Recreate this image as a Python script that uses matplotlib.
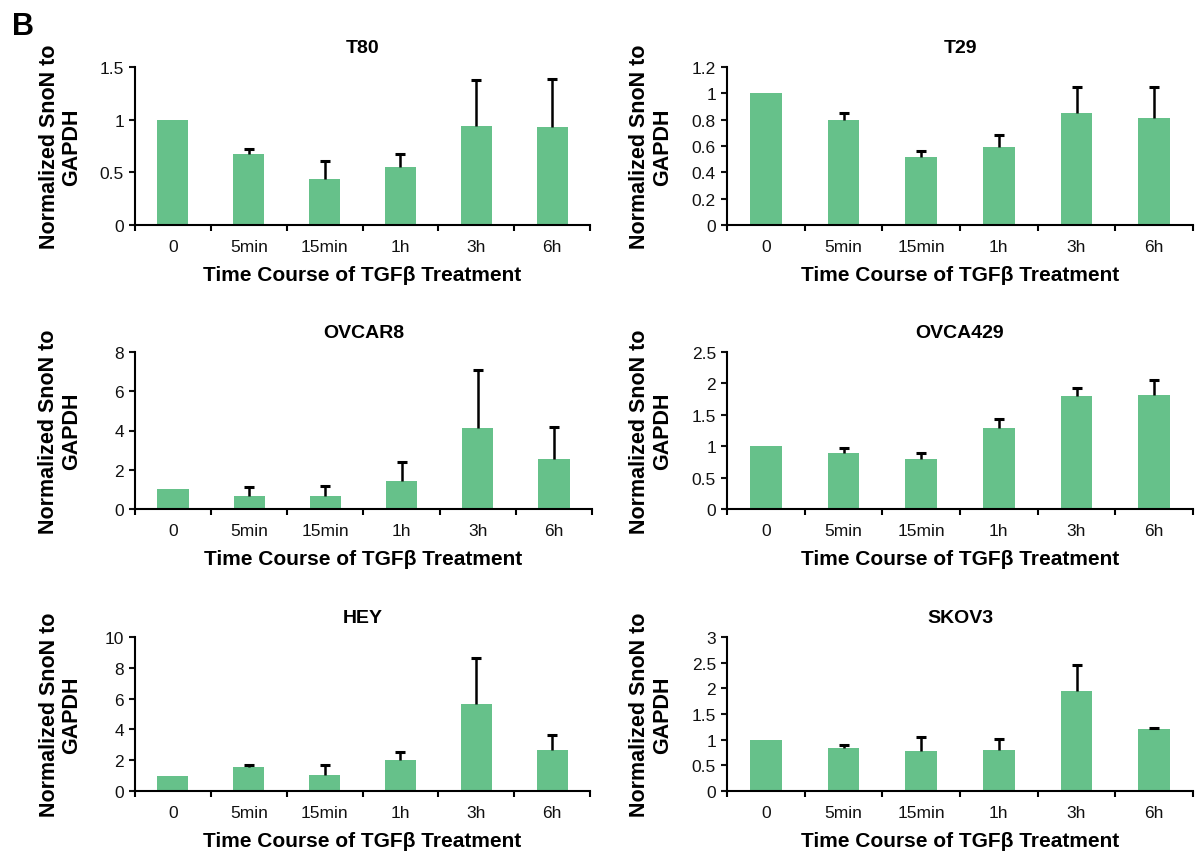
import numpy as np
import matplotlib
matplotlib.use('Agg')
import matplotlib.pyplot as plt
from matplotlib.ticker import FormatStrFormatter, FixedLocator

plt.rcParams['font.family'] = ['Liberation Sans', 'DejaVu Sans']

# data
times = ['0', '5min', '15min', '1h', '3h', '6h']
cell_lines = ['T80', 'T29', 'OVCAR8', 'OVCA429', 'HEY', 'SKOV3']

t80_mean = [1.00, 0.67, 0.44, 0.55, 0.94, 0.93]
t80_err = [0.00, 0.05, 0.17, 0.12, 0.44, 0.46]
t29_mean = [1.00, 0.80, 0.52, 0.59, 0.85, 0.81]
t29_err = [0.00, 0.05, 0.04, 0.09, 0.20, 0.24]
ovcar8_mean = [1.00, 0.66, 0.66, 1.42, 4.12, 2.54]
ovcar8_err = [0.00, 0.46, 0.51, 0.97, 2.95, 1.65]
ovca429_mean = [1.00, 0.89, 0.80, 1.29, 1.80, 1.81]
ovca429_err = [0.00, 0.08, 0.09, 0.15, 0.12, 0.245]
hey_mean = [1.00, 1.57, 1.06, 2.03, 5.65, 2.67]
hey_err = [0.00, 0.09, 0.66, 0.51, 2.97, 0.99]
skov3_mean = [1.00, 0.84, 0.77, 0.80, 1.95, 1.21]
skov3_err = [0.00, 0.065, 0.29, 0.215, 0.51, 0.025]

means = [t80_mean, t29_mean, ovcar8_mean, ovca429_mean, hey_mean, skov3_mean]
errs = [t80_err, t29_err, ovcar8_err, ovca429_err, hey_err, skov3_err]

yticks = [
    [0, 0.5, 1, 1.5],
    [0, 0.2, 0.4, 0.6, 0.8, 1, 1.2],
    [0, 2, 4, 6, 8],
    [0, 0.5, 1, 1.5, 2, 2.5],
    [0, 2, 4, 6, 8, 10],
    [0, 0.5, 1, 1.5, 2, 2.5, 3],
]

W, H = 1197, 854
bar_color = '#66c18a'

# axes boxes in pixels: (left, top, right, bottom)
boxes = [
    (135, 68, 590, 226), (727, 68, 1193, 226),
    (135, 353, 592, 510), (727, 353, 1193, 510),
    (135, 638, 590, 792), (727, 638, 1193, 792),
]

fig = plt.figure(figsize=(W / 100, H / 100), dpi=100)

for i, name in enumerate(cell_lines):
    l, t, r, b = boxes[i]
    ax = fig.add_axes([l / W, 1 - b / H, (r - l) / W, (b - t) / H])
    x = np.arange(len(times))
    m = np.array(means[i])
    e = np.array(errs[i])

    ax.bar(x, m, width=0.41, color=bar_color, zorder=2)
    sel = e > 0
    eb = ax.errorbar(x[sel], m[sel], yerr=[np.zeros(sel.sum()), e[sel]], fmt='none',
                     ecolor='black', elinewidth=1.8, capsize=3.5, capthick=2.2, zorder=3)
    # only the upper cap, like the original
    eb[1][0].set_visible(False)

    ax.set_xlim(-0.5, len(times) - 0.5)
    ax.set_ylim(yticks[i][0], yticks[i][-1])
    ax.set_yticks(yticks[i])
    ax.yaxis.set_major_formatter(FormatStrFormatter('%g'))
    ax.set_xticks(x)
    ax.set_xticklabels(times)
    ax.xaxis.set_minor_locator(FixedLocator(np.arange(-0.5, len(times), 1.0)))

    ax.tick_params(axis='x', which='major', length=0, pad=10, labelsize=12.5, colors='#111111')
    ax.tick_params(axis='x', which='minor', length=4.5, width=1.5, direction='out')
    ax.tick_params(axis='y', length=4.5, width=1.5, pad=3.5, labelsize=12.5, colors='#111111')

    for s in ['top', 'right']:
        ax.spines[s].set_visible(False)
    for s in ['left', 'bottom']:
        ax.spines[s].set_linewidth(1.5)
        ax.spines[s].set_color('black')

    ax.set_title(name, fontsize=14, fontweight='bold', pad=11)
    ax.set_xlabel('Time Course of TGFβ Treatment', fontsize=15, fontweight='bold', labelpad=8)
    ax.set_ylabel('Normalized SnoN to\nGAPDH', fontsize=15.5, fontweight='bold', linespacing=1.1)
    ax.yaxis.set_label_coords(-0.116, 0.5)

fig.text(12 / W, 1 - 12 / H, 'B', fontsize=22, fontweight='bold', ha='left', va='top')

fig.savefig('out.png', dpi=100)
